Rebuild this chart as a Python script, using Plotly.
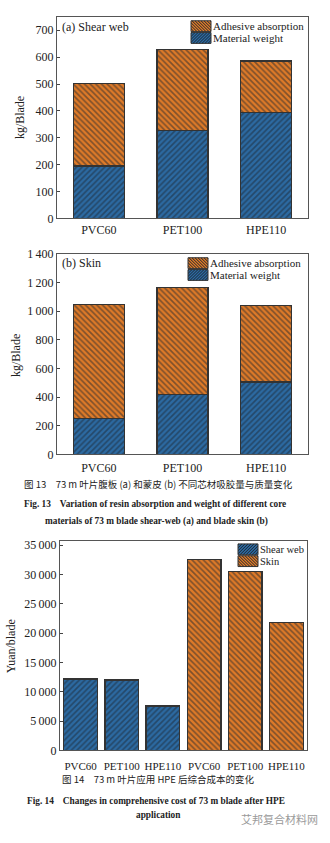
import plotly.graph_objects as go

# ---- data ----
cores = ["PVC60", "PET100", "HPE110"]

web_material = [195, 328, 393]
web_adhesive = [308, 301, 193]

skin_material = [250, 420, 505]
skin_adhesive = [798, 745, 533]

cost_web = [12200, 12000, 7600]
cost_skin = [32600, 30500, 21800]

ticks_a = [0, 100, 200, 300, 400, 500, 600, 700]
ticks_b = [0, 200, 400, 600, 800, 1000, 1200, 1400]
ticks_b_text = ["0", "200", "400", "600", "800", "1\u2009000", "1\u2009200", "1\u2009400"]
ticks_c = [0, 5000, 10000, 15000, 20000, 25000, 30000, 35000]
ticks_c_text = ["0", "5\u2009000", "10\u2009000", "15\u2009000", "20\u2009000",
                "25\u2009000", "30\u2009000", "35\u2009000"]

# ---- style ----
W, H = 330, 843
BLUE = "#2c6aa2"
ORANGE = "#de7a28"
HATCH = "#1c2630"
EDGE = "#333333"
SERIF = "Liberation Serif, Times New Roman, serif"
CJK = "Noto Sans CJK SC, sans-serif"


def px_y(p):
    return 1 - p / H


def px_x(p):
    return p / W


def pattern(color, shape):
    return dict(shape=shape, fgcolor=HATCH, bgcolor=color, size=4, solidity=0.42)


fig = go.Figure()

xi = list(range(len(cores)))

# (a) shear web
fig.add_trace(go.Bar(x=xi, y=web_material, width=0.61, name="Material weight",
                     marker=dict(color=BLUE, pattern=pattern(BLUE, "/"),
                                 line=dict(color=EDGE, width=1.3)),
                     xaxis="x", yaxis="y"))
fig.add_trace(go.Bar(x=xi, y=web_adhesive, width=0.61, name="Adhesive absorption",
                     marker=dict(color=ORANGE, pattern=pattern(ORANGE, "\\"),
                                 line=dict(color=EDGE, width=1.3)),
                     xaxis="x", yaxis="y"))

# (b) skin
fig.add_trace(go.Bar(x=xi, y=skin_material, width=0.61, name="Material weight",
                     marker=dict(color=BLUE, pattern=pattern(BLUE, "/"),
                                 line=dict(color=EDGE, width=1.3)),
                     xaxis="x2", yaxis="y2"))
fig.add_trace(go.Bar(x=xi, y=skin_adhesive, width=0.61, name="Adhesive absorption",
                     marker=dict(color=ORANGE, pattern=pattern(ORANGE, "\\"),
                                 line=dict(color=EDGE, width=1.3)),
                     xaxis="x2", yaxis="y2"))

# Fig. 14 cost
fig.add_trace(go.Bar(x=[0, 1, 2], y=cost_web, width=0.82, name="Shear web",
                     marker=dict(color=BLUE, pattern=pattern(BLUE, "/"),
                                 line=dict(color=EDGE, width=1.3)),
                     xaxis="x3", yaxis="y3"))
fig.add_trace(go.Bar(x=[3, 4, 5], y=cost_skin, width=0.82, name="Skin",
                     marker=dict(color=ORANGE, pattern=pattern(ORANGE, "\\"),
                                 line=dict(color=EDGE, width=1.3)),
                     xaxis="x3", yaxis="y3"))

tickfont = dict(family=SERIF, size=12, color="#222")


def yax(domain, rng, vals, text, anchor):
    return dict(domain=domain, range=rng, tickvals=vals, ticktext=text,
                ticks="inside", ticklen=3, tickcolor="#444", tickwidth=1,
                showgrid=False, zeroline=False, showline=True, linecolor="#555",
                linewidth=1, mirror=True, tickfont=tickfont, anchor=anchor,
                fixedrange=True)


def xax(domain, rng, vals, text, anchor, size=12, standoff=2):
    return dict(domain=domain, range=rng, tickvals=vals, ticktext=text,
                ticks="", showgrid=False, zeroline=False, showline=True,
                linecolor="#555", linewidth=1, mirror=True,
                tickfont=dict(family=SERIF, size=size, color="#222"), tickangle=0,
                ticklabelstandoff=standoff, anchor=anchor, fixedrange=True)


dom_x12 = [px_x(57), px_x(308)]
dom_x3 = [px_x(60), px_x(307)]

fig.update_layout(
    width=W, height=H,
    margin=dict(l=0, r=0, t=0, b=0),
    paper_bgcolor="white", plot_bgcolor="white",
    barmode="stack",
    showlegend=False,
    xaxis=xax(dom_x12, [-0.5, 2.5], xi, cores, "y", standoff=0),
    yaxis=yax([px_y(215), px_y(10)], [0, 750], ticks_a, [str(v) for v in ticks_a], "x"),
    xaxis2=xax(dom_x12, [-0.5, 2.5], xi, cores, "y2", standoff=2),
    yaxis2=yax([px_y(455), px_y(251)], [0, 1400], ticks_b, ticks_b_text, "x2"),
    xaxis3=xax(dom_x3, [-0.5, 5.5], [0, 1, 2, 3, 4, 5], cores + cores, "y3",
               size=11, standoff=5),
    yaxis3=yax([px_y(756), px_y(543)], [0, 35700], ticks_c, ticks_c_text, "x3"),
)


# ---- hand-drawn legends: hatched swatch + label ----
def hatch_lines(x0, y0, x1, y1, slash, step=3.0):
    """Diagonal hatch segments clipped to a pixel box (y grows downward)."""
    segs = []
    w, h = x1 - x0, y1 - y0
    c = -h
    while c <= w + h:
        pts = []
        # line in local coords: u + v = c ('/') or u - v = c ('\')
        for u in (0.0, w):
            v = (c - u) if slash else (u - c)
            if 0 <= v <= h:
                pts.append((u, v))
        for v in (0.0, h):
            u = (c - v) if slash else (c + v)
            if 0 <= u <= w:
                pts.append((u, v))
        if len(pts) >= 2:
            pts = sorted(set(pts))
            (ua, va), (ub, vb) = pts[0], pts[-1]
            segs.append((x0 + ua, y0 + va, x0 + ub, y0 + vb))
        c += step
    return segs


shapes = []
legend_anns = []


def swatch(x0, y0, label, color, slash, size=10.5):
    x1, y1 = x0 + 20, y0 + 11
    shapes.append(dict(type="rect", xref="paper", yref="paper",
                       x0=px_x(x0), x1=px_x(x1), y0=px_y(y1), y1=px_y(y0),
                       fillcolor=color, line=dict(width=0), layer="above"))
    path = ""
    for (ax, ay, bx, by) in hatch_lines(x0, y0, x1, y1, slash):
        path += f"M{px_x(ax):.5f},{px_y(ay):.5f}L{px_x(bx):.5f},{px_y(by):.5f}"
    shapes.append(dict(type="path", xref="paper", yref="paper", path=path,
                       line=dict(color=HATCH, width=1), layer="above"))
    shapes.append(dict(type="rect", xref="paper", yref="paper",
                       x0=px_x(x0), x1=px_x(x1), y0=px_y(y1), y1=px_y(y0),
                       line=dict(color=EDGE, width=1), layer="above"))
    legend_anns.append(dict(text=label, x=px_x(x1 + 1), y=px_y(y0 + 5.5),
                            xanchor="left", yanchor="middle", borderpad=0,
                            font=dict(family=SERIF, size=size, color="#222")))


swatch(191, 14, "Adhesive absorption", ORANGE, False, size=11)
swatch(191, 26, "Material weight", BLUE, True, size=11)
swatch(188, 255, "Adhesive absorption", ORANGE, False, size=11)
swatch(188, 267, "Material weight", BLUE, True, size=11)
swatch(238, 546, "Shear web", BLUE, True)
swatch(238, 558, "Skin", ORANGE, False)

anns = legend_anns + [
    dict(text="(a) Shear web", x=px_x(60), y=px_y(20), xanchor="left",
         font=dict(family=SERIF, size=12, color="#222")),
    dict(text="(b) Skin", x=px_x(60), y=px_y(260), xanchor="left",
         font=dict(family=SERIF, size=12, color="#222")),
    dict(text="kg/Blade", x=px_x(20), y=px_y(113), textangle=-90,
         font=dict(family=SERIF, size=12, color="#222")),
    dict(text="kg/Blade", x=px_x(16), y=px_y(355), textangle=-90,
         font=dict(family=SERIF, size=12, color="#222")),
    dict(text="Yuan/blade", x=px_x(11), y=px_y(650), textangle=-90,
         font=dict(family=SERIF, size=12, color="#222")),
    dict(text="图 13　73 m 叶片腹板 (a) 和蒙皮 (b) 不同芯材吸胶量与质量变化",
         x=px_x(22), y=px_y(485), xanchor="left",
         font=dict(family=CJK, size=9.5, color="#222")),
    dict(text="<b>Fig. 13　Variation of resin absorption and weight of different core</b>",
         x=px_x(22), y=px_y(505), xanchor="left",
         font=dict(family=SERIF, size=9.3, color="#222")),
    dict(text="<b>materials of 73 m blade shear-web (a) and blade skin (b)</b>",
         x=px_x(156), y=px_y(523), xanchor="center",
         font=dict(family=SERIF, size=9.3, color="#222")),
    dict(text="图 14　73 m 叶片应用 HPE 后综合成本的变化",
         x=px_x(158), y=px_y(785), xanchor="center",
         font=dict(family=CJK, size=9.5, color="#222")),
    dict(text="<b>Fig. 14　Changes in comprehensive cost of 73 m blade after HPE</b>",
         x=px_x(25), y=px_y(807), xanchor="left",
         font=dict(family=SERIF, size=9.3, color="#222")),
    dict(text="<b>application</b>",
         x=px_x(158), y=px_y(822), xanchor="center",
         font=dict(family=SERIF, size=9.3, color="#222")),
    dict(text="艾邦复合材料网",
         x=px_x(320), y=px_y(826), xanchor="right",
         font=dict(family=CJK, size=11, color="#9a9a9a")),
]
for a in anns:
    a.update(xref="paper", yref="paper", showarrow=False)
    a.setdefault("yanchor", "middle")
    a.setdefault("xanchor", "center")
fig.update_layout(annotations=anns, shapes=shapes)

fig.write_html("out.html")
